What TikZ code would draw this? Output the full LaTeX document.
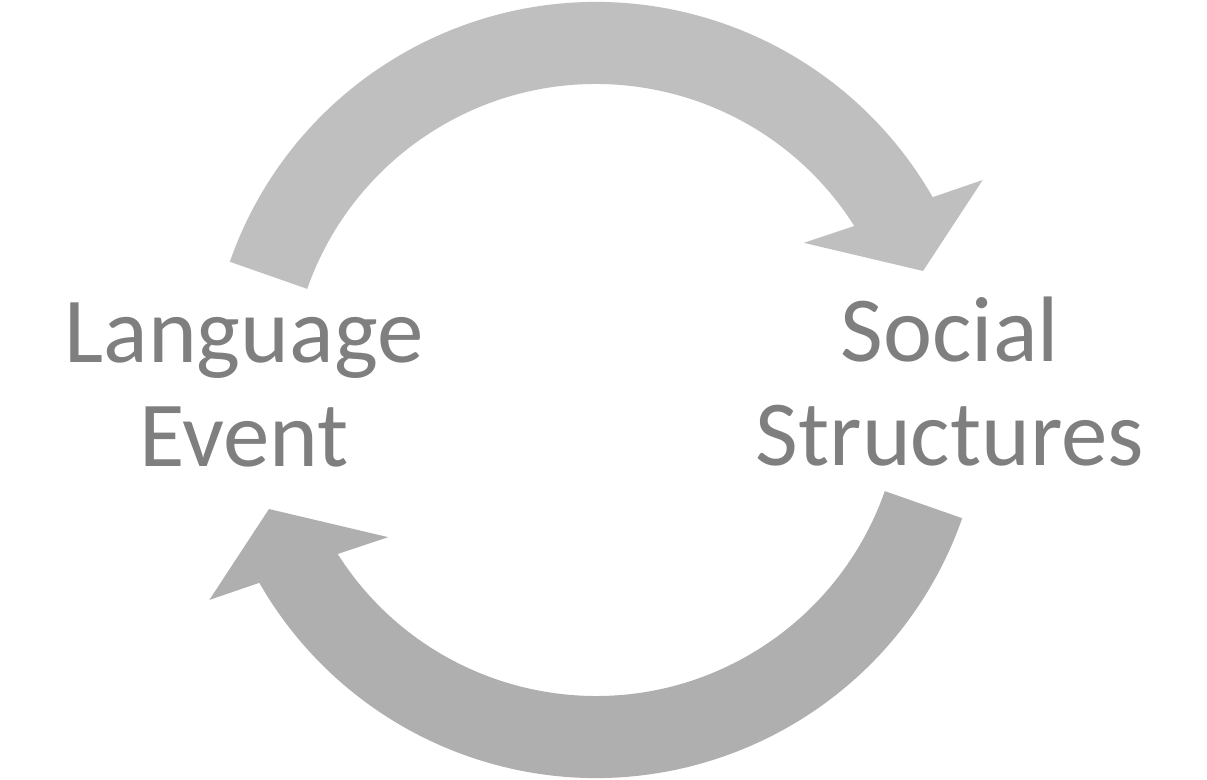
\documentclass[tikz,border=0pt]{standalone}
\usepackage{fontspec}
\setmainfont{Carlito}
\definecolor{arrowtop}{HTML}{BFBFBF}
\definecolor{arrowbot}{HTML}{AFAFAF}
\definecolor{labelgray}{HTML}{7F7F7F}
\begin{document}
\begin{tikzpicture}[x=1pt,y=1pt,
  label text/.style={text=labelgray, align=center, inner sep=0pt,
    font=\fontsize{93}{104}\selectfont, anchor=base}]
\useasboundingbox (0,0) rectangle (1207,779);
\fill[white] (0,0) rectangle (1207,779);
\coordinate (C) at (596,389);
% top arrow
\begin{scope}[shift={(C)}]
\fill[arrowtop] (160.7:388) arc[start angle=160.7, end angle=29.8, radius=388]
  -- (28.5:440) -- (20:348) -- (35.3:254.7) -- (32.4:306)
  arc[start angle=32.4, end angle=160.7, radius=306] -- cycle;
\end{scope}
% bottom arrow
\begin{scope}[shift={(C)}, rotate=180]
\fill[arrowbot] (160.7:388) arc[start angle=160.7, end angle=29.8, radius=388]
  -- (28.5:440) -- (20:348) -- (35.3:254.7) -- (32.4:306)
  arc[start angle=32.4, end angle=160.7, radius=306] -- cycle;
\end{scope}
\node[label text] (lang) at (244,312) {Language\\Event};
\node[label text] (soc) at (950,313) {Social\\Structures};
\end{tikzpicture}
\end{document}
